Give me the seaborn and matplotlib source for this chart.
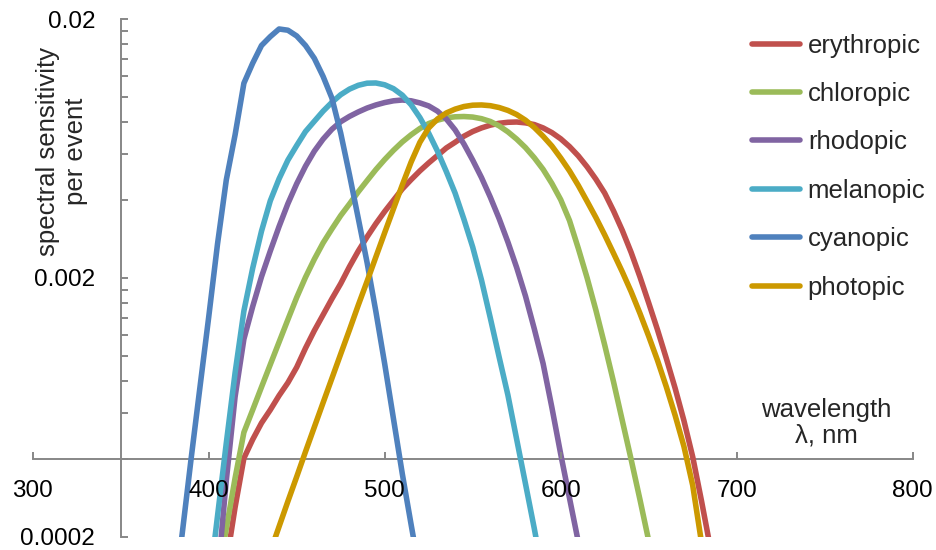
import matplotlib
matplotlib.use("Agg")
import matplotlib.pyplot as plt
import matplotlib.ticker as mticker
import numpy as np
import pandas as pd
import seaborn as sns

# ---------------- data ----------------
step_nm = 5

erythropic_start = 410
erythropic = [0.000158, 0.00026, 0.000402, 0.000475, 0.00055, 0.000618, 0.000702,
              0.000787, 0.000903, 0.00107, 0.00125, 0.00144, 0.00166, 0.0019,
              0.00221, 0.00254, 0.00288, 0.00324, 0.00361, 0.00399, 0.00441,
              0.00479, 0.00518, 0.00556, 0.00594, 0.00635, 0.00668, 0.00705,
              0.00735, 0.00759, 0.00778, 0.00791, 0.00798, 0.0080, 0.00794,
              0.00782, 0.00759, 0.00728, 0.00689, 0.00643, 0.00592, 0.00537,
              0.00481, 0.00425, 0.00363, 0.00305, 0.00251, 0.00202, 0.0016,
              0.00126, 0.000977, 0.00075, 0.000562, 0.000407, 0.000275,
              0.000182, 0.00012]

chloropic_start = 405
chloropic = [0.000137, 0.000215, 0.000337, 0.000506, 0.000618, 0.000757, 0.000925,
             0.00113, 0.00138, 0.00168, 0.00201, 0.00236, 0.00273, 0.00309,
             0.00348, 0.00386, 0.0043, 0.00475, 0.00524, 0.00573, 0.00622,
             0.0067, 0.00714, 0.00755, 0.00789, 0.00813, 0.0083, 0.00838,
             0.0084, 0.00836, 0.00824, 0.00804, 0.00773, 0.00733, 0.00687,
             0.00637, 0.00582, 0.00525, 0.00463, 0.00401, 0.00333, 0.0026,
             0.0020, 0.0015, 0.0011, 0.000794, 0.000562, 0.000398, 0.000279,
             0.000193, 0.000133]

rhodopic_start = 405
rhodopic = [0.000139, 0.00033, 0.000695, 0.00116, 0.00155, 0.00202, 0.00254,
            0.00316, 0.00387, 0.00462, 0.0054, 0.00617, 0.00687, 0.0075,
            0.00802, 0.00841, 0.00875, 0.00906, 0.00931, 0.00951, 0.00966,
            0.00973, 0.00966, 0.00948, 0.00923, 0.00881, 0.00822, 0.00746,
            0.00658, 0.0057, 0.00488, 0.0041, 0.00339, 0.00275, 0.00219,
            0.0017, 0.00127, 0.000933, 0.000631, 0.000417, 0.000282,
            0.000191, 0.000129]

melanopic_start = 400
melanopic = [0.000125, 0.00024, 0.00046, 0.00086, 0.00149, 0.00218, 0.00303,
             0.00397, 0.00483, 0.0057, 0.00649, 0.00735, 0.00805, 0.00881,
             0.00953, 0.0102, 0.01072, 0.01109, 0.0113, 0.01132, 0.01114,
             0.01076, 0.01016, 0.00933, 0.00832, 0.00724, 0.00617, 0.00515,
             0.00425, 0.00337, 0.00263, 0.00196, 0.0014, 0.00099, 0.000705,
             0.000475, 0.00032, 0.000215, 0.000141]

cyanopic_start = 380
cyanopic = [0.000109, 0.000207, 0.0004, 0.000753, 0.00141, 0.0027, 0.00478,
            0.00714, 0.0113, 0.0135, 0.0158, 0.0171, 0.0183, 0.0181, 0.0172,
            0.0158, 0.0141, 0.0120, 0.0099, 0.00725, 0.0050, 0.00339, 0.00229,
            0.00148, 0.00093, 0.00057, 0.00035, 0.000223, 0.000143]

photopic_start = 435
photopic = [0.000175, 0.000219, 0.000274, 0.000341, 0.000426, 0.00053, 0.000659,
            0.000818, 0.001016, 0.00126, 0.00157, 0.00194, 0.00241, 0.00299,
            0.0037, 0.00457, 0.0056, 0.00668, 0.00759, 0.00822, 0.00867,
            0.00897, 0.00918, 0.00929, 0.00931, 0.00925, 0.0091, 0.00887,
            0.00855, 0.00813, 0.00762, 0.00705, 0.00646, 0.00581, 0.00518,
            0.00455, 0.00395, 0.00342, 0.00293, 0.00249, 0.00211, 0.00177,
            0.00146, 0.00119, 0.00096, 0.000759, 0.000589, 0.000447,
            0.000316, 0.00019, 0.000112]

series_names = ["erythropic", "chloropic", "rhodopic", "melanopic", "cyanopic", "photopic"]
series_colors = ["#C0504D", "#9BBB59", "#8064A2", "#4BACC6", "#4F81BD", "#CC9900"]

x_ticks = [300, 400, 500, 600, 700, 800]
y_ticks = [0.0002, 0.002, 0.02]
y_tick_labels = ["0.0002", "0.002", "0.02"]
y_minor_ticks = [0.0004, 0.0006, 0.0008, 0.0010, 0.0012, 0.0014, 0.0016, 0.0018,
                 0.004, 0.006, 0.008, 0.010, 0.012, 0.014, 0.016, 0.018]

# ---------------- build long-form table ----------------
starts = [erythropic_start, chloropic_start, rhodopic_start,
          melanopic_start, cyanopic_start, photopic_start]
values = [erythropic, chloropic, rhodopic, melanopic, cyanopic, photopic]
rows = []
for name, start, vals in zip(series_names, starts, values):
    for i, v in enumerate(vals):
        rows.append({"wavelength": start + step_nm * i, "sensitivity": v, "series": name})
df = pd.DataFrame(rows)

# ---------------- plot ----------------
sns.set_style("white")
plt.rcParams["font.family"] = ["Liberation Sans", "DejaVu Sans"]

W, H = 936, 550
fig = plt.figure(figsize=(W / 100, H / 100), dpi=100)
left_px, right_px, top_px, bottom_px = 32.7, 912.7, 19.0, 536.7
ax = fig.add_axes([left_px / W, 1 - bottom_px / H,
                   (right_px - left_px) / W, (bottom_px - top_px) / H])

sns.lineplot(data=df, x="wavelength", y="sensitivity", hue="series",
             hue_order=series_names, palette=dict(zip(series_names, series_colors)),
             linewidth=4, estimator=None, sort=True, errorbar=None, ax=ax)

ax.set_yscale("log")
ax.set_xlim(300, 800)
ax.set_ylim(0.0002, 0.02)
ax.set_xlabel("")
ax.set_ylabel("")

axis_grey = "#878787"
for s in ["top", "right"]:
    ax.spines[s].set_visible(False)
ax.spines["left"].set_position(("data", 350))
ax.spines["bottom"].set_position(("data", 0.0004))
for s in ["left", "bottom"]:
    ax.spines[s].set_color(axis_grey)
    ax.spines[s].set_linewidth(1.4)
    ax.spines[s].set_zorder(1)

ax.xaxis.set_major_locator(mticker.FixedLocator(x_ticks))
ax.xaxis.set_minor_locator(mticker.NullLocator())
ax.yaxis.set_major_locator(mticker.FixedLocator(y_ticks))
ax.yaxis.set_major_formatter(mticker.FixedFormatter(y_tick_labels))
ax.yaxis.set_minor_locator(mticker.FixedLocator(y_minor_ticks))
ax.yaxis.set_minor_formatter(mticker.NullFormatter())

ax.tick_params(axis="both", which="both", direction="in", length=5, width=1.4,
               color=axis_grey, labelsize=17.5, labelcolor="black",
               bottom=True, left=True, top=False, right=False)
ax.tick_params(axis="x", which="major", pad=15)
ax.tick_params(axis="y", which="major", pad=18.5)
ax.xaxis.set_zorder(5)
ax.yaxis.set_zorder(5)
ax.set_facecolor("white")
ax.patch.set_alpha(0)

# legend
handles, labels = ax.get_legend_handles_labels()
leg = ax.legend(handles, labels, loc="upper left",
                bbox_to_anchor=(751.8 / W, 1 - 33.5 / H), bbox_transform=fig.transFigure,
                frameon=False, borderpad=0, borderaxespad=0, handlelength=1.88,
                handletextpad=0.3, labelspacing=0.95, fontsize=18.5)
for ln in leg.get_lines():
    ln.set_linewidth(4)
    ln.set_solid_capstyle("round")

# axis titles
fig.text(62 / W, 1 - 151 / H, "spectral sensitivity\nper event", rotation=90,
         ha="center", va="center", multialignment="center", fontsize=18.5)
fig.text(826 / W, 1 - 422.5 / H, "wavelength\nλ, nm", ha="center", va="center",
         multialignment="center", fontsize=18.5, linespacing=1.1)

fig.savefig("out.png", dpi=100)
